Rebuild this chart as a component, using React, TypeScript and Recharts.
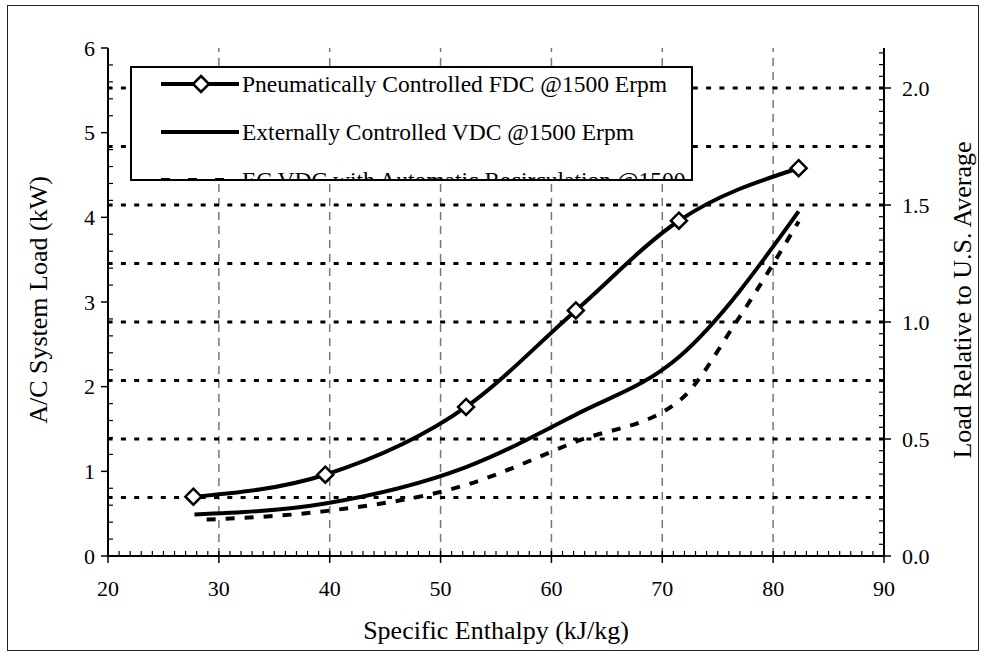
import { LineChart, Line, XAxis, YAxis, ReferenceLine, Legend } from "recharts"

const FONT = '"Liberation Serif", "Times New Roman", serif'

// series: enthalpy (kJ/kg) vs A/C load (kW)
const fdcPneumatic = [
  { h: 27.7, kw: 0.7 },
  { h: 39.6, kw: 0.96 },
  { h: 52.3, kw: 1.76 },
  { h: 62.2, kw: 2.9 },
  { h: 71.5, kw: 3.96 },
  { h: 82.3, kw: 4.58 },
]

const vdcExternal = [
  { h: 27.8, kw: 0.49 },
  { h: 39.6, kw: 0.62 },
  { h: 52.3, kw: 1.05 },
  { h: 62.2, kw: 1.67 },
  { h: 71.5, kw: 2.35 },
  { h: 82.3, kw: 4.07 },
]

const vdcRecirc = [
  { h: 28.9, kw: 0.43 },
  { h: 39.6, kw: 0.53 },
  { h: 52.3, kw: 0.84 },
  { h: 62.2, kw: 1.35 },
  { h: 71.5, kw: 1.83 },
  { h: 76.8, kw: 2.79 },
  { h: 82.3, kw: 3.95 },
]

const legendLabels = [
  "Pneumatically Controlled FDC @1500 Erpm",
  "Externally Controlled VDC @1500 Erpm",
  "EC VDC with Automatic Recirculation @1500 Erpm",
]

// axes
const xTicks = Array.from({ length: 71 }, (_, i) => 20 + i)
const xGrid = [30, 40, 50, 60, 70, 80]
const topTicks = [30, 40, 50, 60, 70, 80]
const yTicks = Array.from({ length: 31 }, (_, i) => +(i * 0.2).toFixed(1))
const rTicks = Array.from({ length: 44 }, (_, i) => +(i * 0.05).toFixed(2))
const rGrid = [0.25, 0.5, 0.75, 1.0, 1.25, 1.5, 1.75, 2.0]
const RIGHT_MAX = 2.171

const near = (v: number, step: number) => Math.abs(v / step - Math.round(v / step)) < 1e-6

const LeftTick = ({ x, y, payload }: any) => {
  const v = payload.value
  if (near(v, 1)) {
    return (
      <g>
        <line x1={x - 7} x2={x} y1={y} y2={y} stroke="#000" strokeWidth={1.5} />
        <text x={x - 13} y={y} dy="0.35em" textAnchor="end" fontFamily={FONT} fontSize={22} fill="#000">
          {v}
        </text>
      </g>
    )
  }
  return <line x1={x} x2={x + 5} y1={y} y2={y} stroke="#000" strokeWidth={1.2} />
}

const RightTick = ({ x, y, payload }: any) => {
  const v = payload.value
  if (near(v, 0.5)) {
    return (
      <g>
        <line x1={x} x2={x + 7} y1={y} y2={y} stroke="#000" strokeWidth={1.5} />
        <text x={x + 18} y={y} dy="0.35em" textAnchor="start" fontFamily={FONT} fontSize={22} fill="#000">
          {v.toFixed(1)}
        </text>
      </g>
    )
  }
  return <line x1={x - 5} x2={x} y1={y} y2={y} stroke="#000" strokeWidth={1.2} />
}

const BottomTick = ({ x, y, payload }: any) => {
  const v = payload.value
  if (near(v, 10)) {
    return (
      <g>
        <line x1={x} x2={x} y1={y - 5} y2={y + 7} stroke="#000" strokeWidth={1.5} />
        <text x={x} y={y + 40} textAnchor="middle" fontFamily={FONT} fontSize={22} fill="#000">
          {v}
        </text>
      </g>
    )
  }
  return <line x1={x} x2={x} y1={y - 5} y2={y} stroke="#000" strokeWidth={1.2} />
}

const TopTick = ({ x, y }: any) => (
  <line x1={x} x2={x} y1={y} y2={y + 6} stroke="#000" strokeWidth={1.5} />
)

const Diamond = (props: any) => {
  const { cx, cy, index } = props
  if (cx == null || cy == null) return <g key={index} />
  const r = 8
  return (
    <path
      key={index}
      d={`M${cx},${cy - r}L${cx + r},${cy}L${cx},${cy + r}L${cx - r},${cy}Z`}
      fill="#fff"
      stroke="#000"
      strokeWidth={2.5}
    />
  )
}

// axis titles: own prop names so the props recharts passes to labels don't override them
const Title = ({ tx, ty, rot, text }: any) => (
  <text
    x={tx}
    y={ty}
    transform={rot ? `rotate(${rot} ${tx} ${ty})` : undefined}
    textAnchor="middle"
    dy="0.35em"
    fontFamily={FONT}
    fontSize={26}
    fill="#000"
  >
    {text}
  </text>
)

const LegendBox = () => {
  const rowY = [16, 64, 112]
  return (
    <div
      style={{
        position: "relative",
        width: 563,
        height: 115,
        border: "2px solid #000",
        boxSizing: "border-box",
        background: "#fff",
        overflow: "hidden",
        fontFamily: FONT,
        fontSize: 23.5,
        color: "#000",
      }}
    >
      {legendLabels.map((label, i) => (
        <div key={label} style={{ position: "absolute", left: 0, top: rowY[i] - 16, height: 32, width: 700 }}>
          <svg width={110} height={32} style={{ position: "absolute", left: 0, top: 0 }}>
            <line
              x1={29}
              x2={107}
              y1={16}
              y2={16}
              stroke="#000"
              strokeWidth={4}
              strokeDasharray={i === 2 ? "9 18" : undefined}
            />
            {i === 0 && <path d="M69,8L77,16L69,24L61,16Z" fill="#fff" stroke="#000" strokeWidth={2.5} />}
          </svg>
          <span style={{ position: "absolute", left: 110, top: 0, lineHeight: "32px", whiteSpace: "nowrap" }}>
            {label}
          </span>
        </div>
      ))}
    </div>
  )
}

export default function App() {
  return (
    <div style={{ position: "absolute", left: 0, top: 0, width: 986, height: 655, background: "#fff" }}>
      <div
        style={{
          position: "absolute",
          left: 7,
          top: 5,
          width: 972,
          height: 646,
          border: "1.5px solid #222",
          boxSizing: "border-box",
          pointerEvents: "none",
        }}
      />
      <LineChart width={986} height={655} margin={{ top: 48, right: 42, bottom: 39, left: 48 }}>
        <XAxis
          xAxisId="x"
          type="number"
          dataKey="h"
          domain={[20, 90]}
          ticks={xTicks}
          interval={0}
          allowDataOverflow
          tickSize={0}
          tickMargin={0}
          tickLine={false}
          tick={<BottomTick />}
          axisLine={{ stroke: "#000", strokeWidth: 2 }}
          height={60}
          label={<Title tx={496} ty={630} text="Specific Enthalpy (kJ/kg)" />}
        />
        <XAxis
          xAxisId="top"
          orientation="top"
          type="number"
          dataKey="h"
          domain={[20, 90]}
          ticks={topTicks}
          interval={0}
          allowDataOverflow
          tickSize={0}
          tickMargin={0}
          tickLine={false}
          tick={<TopTick />}
          axisLine={{ stroke: "#000", strokeWidth: 2 }}
          height={0}
        />
        <YAxis
          yAxisId="l"
          type="number"
          domain={[0, 6]}
          ticks={yTicks}
          interval={0}
          allowDataOverflow
          tickSize={0}
          tickMargin={0}
          tickLine={false}
          tick={<LeftTick />}
          axisLine={{ stroke: "#000", strokeWidth: 2 }}
          width={60}
          label={<Title tx={38} ty={300} rot={-90} text="A/C System Load (kW)" />}
        />
        <YAxis
          yAxisId="r"
          orientation="right"
          type="number"
          domain={[0, RIGHT_MAX]}
          ticks={rTicks}
          interval={0}
          allowDataOverflow
          tickSize={0}
          tickMargin={0}
          tickLine={false}
          tick={<RightTick />}
          axisLine={{ stroke: "#000", strokeWidth: 2 }}
          width={60}
          label={<Title tx={962} ty={300} rot={-90} text="Load Relative to U.S. Average" />}
        />

        {xGrid.map((v) => (
          <ReferenceLine
            key={`vx${v}`}
            xAxisId="x"
            yAxisId="l"
            x={v}
            stroke="#777"
            strokeWidth={1.5}
            strokeDasharray="8 6"
          />
        ))}
        {rGrid.map((v) => (
          <ReferenceLine
            key={`hr${v}`}
            xAxisId="x"
            yAxisId="r"
            y={v}
            stroke="#000"
            strokeWidth={3}
            strokeDasharray="5 8.3"
          />
        ))}

        <Line
          xAxisId="x"
          yAxisId="l"
          data={vdcRecirc}
          dataKey="kw"
          type="monotone"
          stroke="#000"
          strokeWidth={4}
          strokeDasharray="9 10"
          dot={false}
          activeDot={false}
          isAnimationActive={false}
        />
        <Line
          xAxisId="x"
          yAxisId="l"
          data={vdcExternal}
          dataKey="kw"
          type="monotone"
          stroke="#000"
          strokeWidth={4}
          dot={false}
          activeDot={false}
          isAnimationActive={false}
        />
        <Line
          xAxisId="x"
          yAxisId="l"
          data={fdcPneumatic}
          dataKey="kw"
          type="monotone"
          stroke="#000"
          strokeWidth={4}
          dot={<Diamond />}
          activeDot={false}
          isAnimationActive={false}
        />

        <Legend
          layout="vertical"
          align="center"
          verticalAlign="middle"
          content={<LegendBox />}
          wrapperStyle={{ left: 130, top: 66, width: 563, height: 115 }}
        />
      </LineChart>
    </div>
  )
}
